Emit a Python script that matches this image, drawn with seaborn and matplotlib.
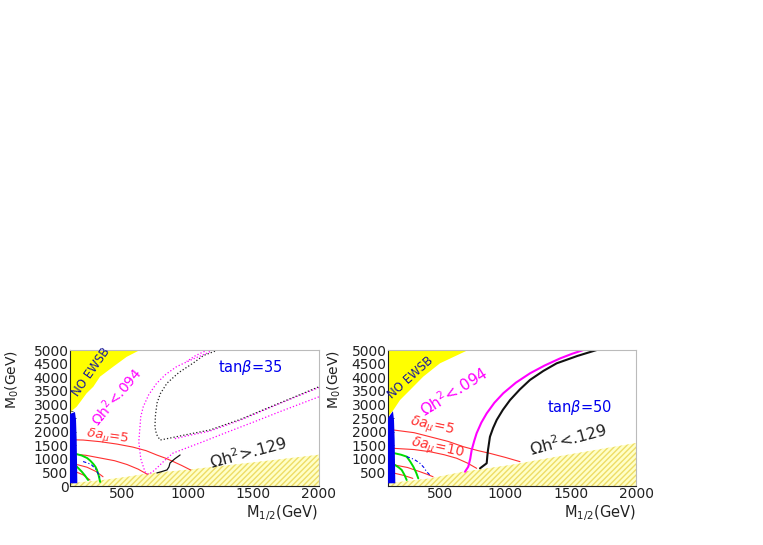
import numpy as np
import pandas as pd
import matplotlib
matplotlib.use("Agg")
import matplotlib.pyplot as plt
import seaborn as sns

# ---------------- data (GeV) ----------------
xlim = (100, 2000)
ylim = (0, 5000)
xticks = [500, 1000, 1500, 2000]
yticks_left = [0, 500, 1000, 1500, 2000, 2500, 3000, 3500, 4000, 4500, 5000]
yticks_right = [500, 1000, 1500, 2000, 2500, 3000, 3500, 4000, 4500, 5000]

# ----- left panel: tan beta = 35 -----
L_ewsb_x = [100, 105, 151, 189, 227, 278, 329, 431, 533, 634, 100]
L_ewsb_y = [2650, 2730, 2915, 3160, 3410, 3650, 4020, 4390, 4750, 5000, 5000]
L_blue_x = [100, 156, 151, 146, 138, 100]
L_blue_y = [100, 100, 1700, 2430, 2720, 2650]
L_stau_x = [100, 350, 535, 690, 1000, 1500, 2000, 2000, 100]
L_stau_y = [100, 220, 340, 460, 600, 870, 1150, 0, 0]
L_red1_x = [100, 200, 329, 460, 580, 680, 762, 830, 887, 950, 1020]
L_red1_y = [1700, 1690, 1630, 1540, 1430, 1300, 1140, 1020, 900, 760, 590]
L_red2_x = [100, 220, 330, 440, 535, 620, 690]
L_red2_y = [1180, 1130, 1030, 930, 790, 620, 430]
L_red3_x = [100, 160, 230, 300, 352]
L_red3_y = [800, 780, 690, 530, 340]
L_red4_x = [100, 150, 200, 252]
L_red4_y = [540, 510, 410, 220]
L_green1_x = [100, 153, 190, 230, 255, 280, 295, 306, 318, 330]
L_green1_y = [1180, 1170, 1120, 1030, 930, 800, 700, 590, 400, 150]
L_green2_x = [100, 138, 165, 192, 215, 238]
L_green2_y = [800, 770, 650, 515, 380, 220]
L_bdot_x = [200, 260, 300, 330]
L_bdot_y = [900, 800, 600, 300]
L_mag_out_x = [1190, 1143, 1030, 914, 830, 761, 700, 659, 640, 634, 625, 640, 672,
               700, 730, 760, 820, 886, 1100, 1300, 1500, 1700, 2000]
L_mag_out_y = [5000, 4880, 4650, 4390, 4100, 3775, 3350, 2915, 2550, 2180, 1630,
               1000, 525, 430, 520, 650, 930, 1210, 1600, 1980, 2350, 2730, 3280]
L_blk_dot_x = [1230, 1120, 1040, 930, 840, 790, 764, 752, 748, 760, 787, 840,
               900, 1000, 1168, 1400, 1600, 1800, 2000]
L_blk_dot_y = [5000, 4800, 4520, 4170, 3780, 3400, 3050, 2600, 2170, 1900, 1690,
               1740, 1800, 1900, 2060, 2450, 2850, 3250, 3650]
L_mag_in_x = [900, 1000, 1168, 1400, 1600, 1800, 2000]
L_mag_in_y = [1740, 1850, 2020, 2420, 2830, 3230, 3620]
L_mag_top_x = [1150, 1060, 990]
L_mag_top_y = [5000, 4800, 4580]
L_blk_sol_x = [763, 800, 840, 855, 863, 900, 940]
L_blk_sol_y = [480, 530, 590, 700, 845, 1000, 1140]

# ----- right panel: tan beta = 50 -----
R_ewsb_x = [100, 141, 192, 269, 370, 498, 715, 100]
R_ewsb_y = [2550, 2790, 3160, 3530, 4020, 4510, 5000, 5000]
R_blue_x = [100, 156, 151, 146, 138, 100]
R_blue_y = [100, 100, 1700, 2430, 2750, 2500]
R_stau_x = [100, 422, 675, 1035, 1500, 2000, 2000, 100]
R_stau_y = [100, 280, 525, 770, 1170, 1580, 0, 0]
R_red1_x = [100, 141, 300, 422, 560, 677, 790, 881, 1000, 1111]
R_red1_y = [2080, 2060, 1960, 1810, 1640, 1445, 1300, 1200, 1050, 895]
R_red2_x = [100, 141, 300, 422, 530, 626, 710, 779]
R_red2_y = [1400, 1385, 1340, 1260, 1150, 1020, 840, 650]
R_red3_x = [100, 154, 250, 345, 400, 445]
R_red3_y = [790, 770, 680, 525, 430, 340]
R_red4_x = [100, 154, 220, 290]
R_red4_y = [480, 465, 390, 280]
R_green1_x = [100, 154, 200, 243, 270, 294, 315, 332]
R_green1_y = [1220, 1200, 1150, 1080, 900, 710, 500, 280]
R_green2_x = [100, 154, 180, 205, 225, 243]
R_green2_y = [800, 770, 690, 590, 420, 220]
R_bdot_x = [243, 300, 345, 375, 396, 422]
R_bdot_y = [1080, 980, 835, 680, 525, 400]
R_mag_x = [690, 715, 730, 741, 760, 779, 815, 856, 915, 983, 1080, 1187, 1300,
           1418, 1510, 1597]
R_mag_y = [525, 710, 1000, 1320, 1650, 1940, 2330, 2670, 3060, 3410, 3800, 4140,
           4430, 4690, 4860, 5000]
R_blk_x = [805, 856, 861, 866, 881, 905, 933, 980, 1035, 1110, 1188, 1290, 1392,
           1550, 1699]
R_blk_y = [650, 835, 1100, 1320, 1810, 2130, 2430, 2800, 3160, 3550, 3900, 4230,
           4510, 4780, 5000]

# ---------------- figure ----------------
sns.set_theme(style="white")
plt.rcParams["font.family"] = ["DejaVu Sans"]

fig = plt.figure(figsize=(7.63, 5.45), dpi=100)
axL = fig.add_axes([70 / 763, 59 / 545, 249 / 763, 136 / 545])
axR = fig.add_axes([388 / 763, 59 / 545, 248 / 763, 136 / 545])

RED = "#ff3030"
MAG = "#ff00ff"
GRN = "#00dd00"
BLU = "#0000ee"
YEL = "#ffff00"


def line(ax, x, y, color, lw=0.8, ls="-"):
    df = pd.DataFrame({"x": x, "y": y})
    sns.lineplot(data=df, x="x", y="y", sort=False, estimator=None, ax=ax,
                 color=color, lw=lw, linestyle=ls)


def base(ax, yt):
    ax.set_xlim(*xlim)
    ax.set_ylim(*ylim)
    ax.set_xticks(xticks)
    ax.set_yticks(yt)
    ax.set_xticks(np.arange(250, 2001, 250), minor=True)
    ax.set_yticks(np.arange(250, 5001, 250), minor=True)
    ax.tick_params(which="major", direction="in", length=4, width=0.6,
                   labelsize=10, colors="#222222", pad=1.0,
                   bottom=True, left=True)
    ax.tick_params(which="minor", direction="in", length=2, width=0.5,
                   bottom=True, left=True)
    for s in ["top", "right"]:
        ax.spines[s].set_color("#bbbbbb")
        ax.spines[s].set_linewidth(0.8)
    for s in ["bottom", "left"]:
        ax.spines[s].set_color("#222222")
        ax.spines[s].set_linewidth(0.8)
    ax.set_xlabel("")
    ax.set_ylabel("")


def hatch_region(ax, x, y):
    ax.fill(x, y, facecolor="#ffffc8", edgecolor="none", zorder=1)
    ax.fill(x, y, facecolor="none", edgecolor="#eedd66", hatch="//////",
            linewidth=0, zorder=1)


# left panel
axL.fill(L_ewsb_x, L_ewsb_y, color=YEL, lw=0, zorder=1)
hatch_region(axL, L_stau_x, L_stau_y)
axL.fill(L_blue_x, L_blue_y, color=BLU, lw=0, zorder=3)
for xs, ys in [(L_red1_x, L_red1_y), (L_red2_x, L_red2_y),
               (L_red3_x, L_red3_y), (L_red4_x, L_red4_y)]:
    line(axL, xs, ys, RED, 0.8)
line(axL, L_green1_x, L_green1_y, GRN, 1.4)
line(axL, L_green2_x, L_green2_y, GRN, 1.4)
line(axL, L_bdot_x, L_bdot_y, BLU, 0.8, (0, (3, 2, 1, 2)))
line(axL, L_mag_out_x, L_mag_out_y, MAG, 0.9, ":")
line(axL, L_mag_in_x, L_mag_in_y, MAG, 0.9, ":")
line(axL, L_mag_top_x, L_mag_top_y, MAG, 0.9, ":")
line(axL, L_blk_dot_x, L_blk_dot_y, "#222222", 0.9, ":")
line(axL, L_blk_sol_x, L_blk_sol_y, "#111111", 0.9)
base(axL, yticks_left)

axL.text(260, 4200, "NO EWSB", rotation=55, color="#1a1a9a", fontsize=8.5,
         ha="center", va="center", zorder=5)
axL.text(451, 3310, r"$\Omega$h$^2$<.094", rotation=50, color=MAG, fontsize=10,
         ha="center", va="center")
axL.text(382, 1820, r"$\delta a_\mu$=5", rotation=-8, color=RED, fontsize=9.5,
         ha="center", va="center")
axL.text(1460, 1240, r"$\Omega$h$^2$>.129", rotation=15, color="#222222",
         fontsize=11.5, ha="center", va="center")
axL.text(1480, 4350, r"tan$\beta$=35", color=BLU, fontsize=10.5,
         ha="center", va="center")

# right panel
axR.fill(R_ewsb_x, R_ewsb_y, color=YEL, lw=0, zorder=1)
hatch_region(axR, R_stau_x, R_stau_y)
axR.fill(R_blue_x, R_blue_y, color=BLU, lw=0, zorder=3)
for xs, ys in [(R_red1_x, R_red1_y), (R_red2_x, R_red2_y),
               (R_red3_x, R_red3_y), (R_red4_x, R_red4_y)]:
    line(axR, xs, ys, RED, 0.8)
line(axR, R_green1_x, R_green1_y, GRN, 1.4)
line(axR, R_green2_x, R_green2_y, GRN, 1.4)
line(axR, R_bdot_x, R_bdot_y, BLU, 0.8, (0, (3, 2, 1, 2)))
line(axR, R_mag_x, R_mag_y, MAG, 1.5)
line(axR, R_blk_x, R_blk_y, "#111111", 1.5)
base(axR, yticks_right)

axR.text(276, 3970, "NO EWSB", rotation=42, color="#1a1a9a", fontsize=8.5,
         ha="center", va="center", zorder=5)
axR.text(606, 3460, r"$\Omega$h$^2$<.094", rotation=32, color=MAG, fontsize=11,
         ha="center", va="center")
axR.text(437, 2170, r"$\delta a_\mu$=5", rotation=-12, color=RED, fontsize=10,
         ha="center", va="center")
axR.text(475, 1360, r"$\delta a_\mu$=10", rotation=-12, color=RED, fontsize=10,
         ha="center", va="center")
axR.text(1479, 1690, r"$\Omega$h$^2$<.129", rotation=15, color="#222222",
         fontsize=11.5, ha="center", va="center")
axR.text(1571, 2870, r"tan$\beta$=50", color=BLU, fontsize=10.5,
         ha="center", va="center")

# axis titles
for xr in [318, 636]:
    fig.text(xr / 763, 1 - 513 / 545, r"M$_{1/2}$(GeV)", ha="right",
             va="center", fontsize=10.5, color="#222222")
for xp in [12, 334]:
    fig.text(xp / 763, 1 - 350 / 545, r"M$_0$(GeV)", rotation=90, ha="center",
             va="top", fontsize=10, color="#222222")

fig.savefig("out.png", dpi=100, facecolor="white")
